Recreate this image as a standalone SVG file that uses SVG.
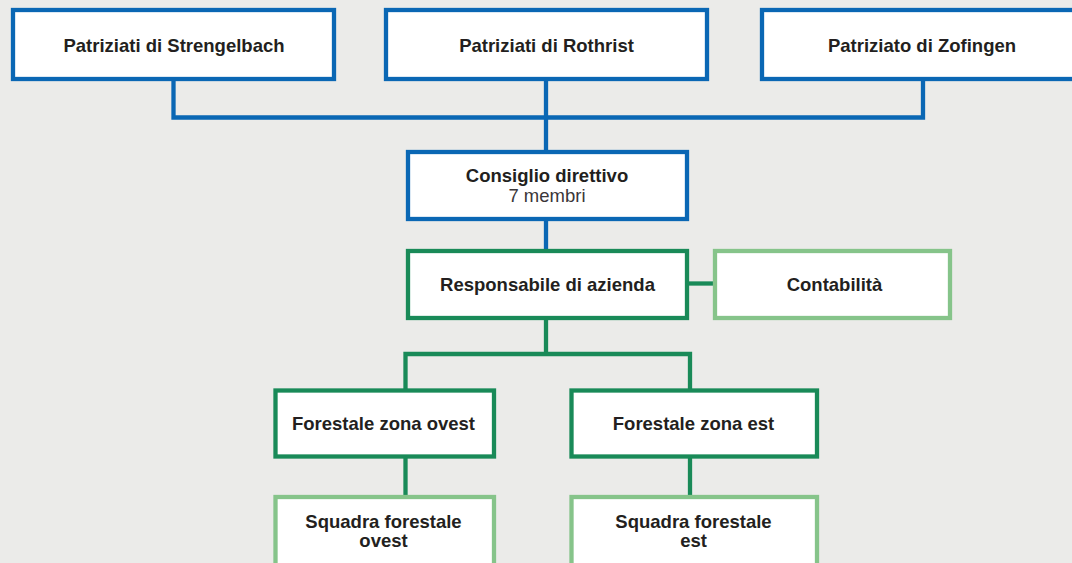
<svg xmlns="http://www.w3.org/2000/svg" width="1072" height="563" viewBox="0 0 1072 563">
<style>
.bg{fill:#ebebe9}
.box{fill:#ffffff;stroke-width:4.3}
.blue{stroke:#0a67b4}
.dg{stroke:#198a58}
.lg{stroke:#86c48a}
.t{font-family:"Liberation Sans",Arial,sans-serif;font-size:18.5px;font-weight:bold;fill:#231f20;text-anchor:middle}
.r{font-weight:normal;fill:#3a3638}
.c{fill:none;stroke-width:4.3;stroke-linejoin:miter;stroke-linecap:butt}
</style>
<rect class="bg" x="0" y="0" width="1072" height="563"/>
<g id="connectors">
<path class="c blue" d="M173.5 79 V117.5 H923 V79"/>
<path class="c blue" d="M546 79 V152"/>
<path class="c blue" d="M546 219 V251"/>
<path class="c dg" d="M687 283.5 H715"/>
<path class="c dg" d="M546 318 V354"/>
<path class="c dg" d="M405.5 390.5 V354 H690 V390.5"/>
<path class="c dg" d="M405.5 456.5 V497"/>
<path class="c dg" d="M690 456.5 V497"/>
</g>
<g id="strengelbach">
<rect class="box blue" x="13" y="10" width="321" height="69"/>
<text class="t" x="174" y="52">Patriziati di Strengelbach</text>
</g>
<g id="rothrist">
<rect class="box blue" x="386" y="10" width="321" height="69"/>
<text class="t" x="546.5" y="52">Patriziati di Rothrist</text>
</g>
<g id="zofingen">
<rect class="box blue" x="762" y="10" width="321" height="69"/>
<text class="t" x="922" y="51.5">Patriziato di Zofingen</text>
</g>
<g id="consiglio">
<rect class="box blue" x="408" y="152" width="279" height="67"/>
<text class="t" x="547" y="181.5">Consiglio direttivo</text>
<text class="t r" x="547" y="202">7 membri</text>
</g>
<g id="responsabile">
<rect class="box dg" x="408" y="251" width="279" height="67"/>
<text class="t" x="547.5" y="290.5">Responsabile di azienda</text>
</g>
<g id="contabilita">
<rect class="box lg" x="715" y="251" width="235" height="67"/>
<text class="t" x="834.5" y="290.5">Contabilità</text>
</g>
<g id="forestale-ovest">
<rect class="box dg" x="275.5" y="390.5" width="218.5" height="66"/>
<text class="t" x="383.5" y="429.5">Forestale zona ovest</text>
</g>
<g id="forestale-est">
<rect class="box dg" x="571.5" y="390.5" width="245.5" height="66"/>
<text class="t" x="693.5" y="429.5">Forestale zona est</text>
</g>
<g id="squadra-ovest">
<rect class="box lg" x="275.5" y="497" width="218.5" height="80"/>
<text class="t" x="383.5" y="527.5">Squadra forestale</text>
<text class="t" x="383.5" y="547">ovest</text>
</g>
<g id="squadra-est">
<rect class="box lg" x="571.5" y="497" width="245.5" height="80"/>
<text class="t" x="693.5" y="527.5">Squadra forestale</text>
<text class="t" x="693.5" y="547">est</text>
</g>
</svg>
